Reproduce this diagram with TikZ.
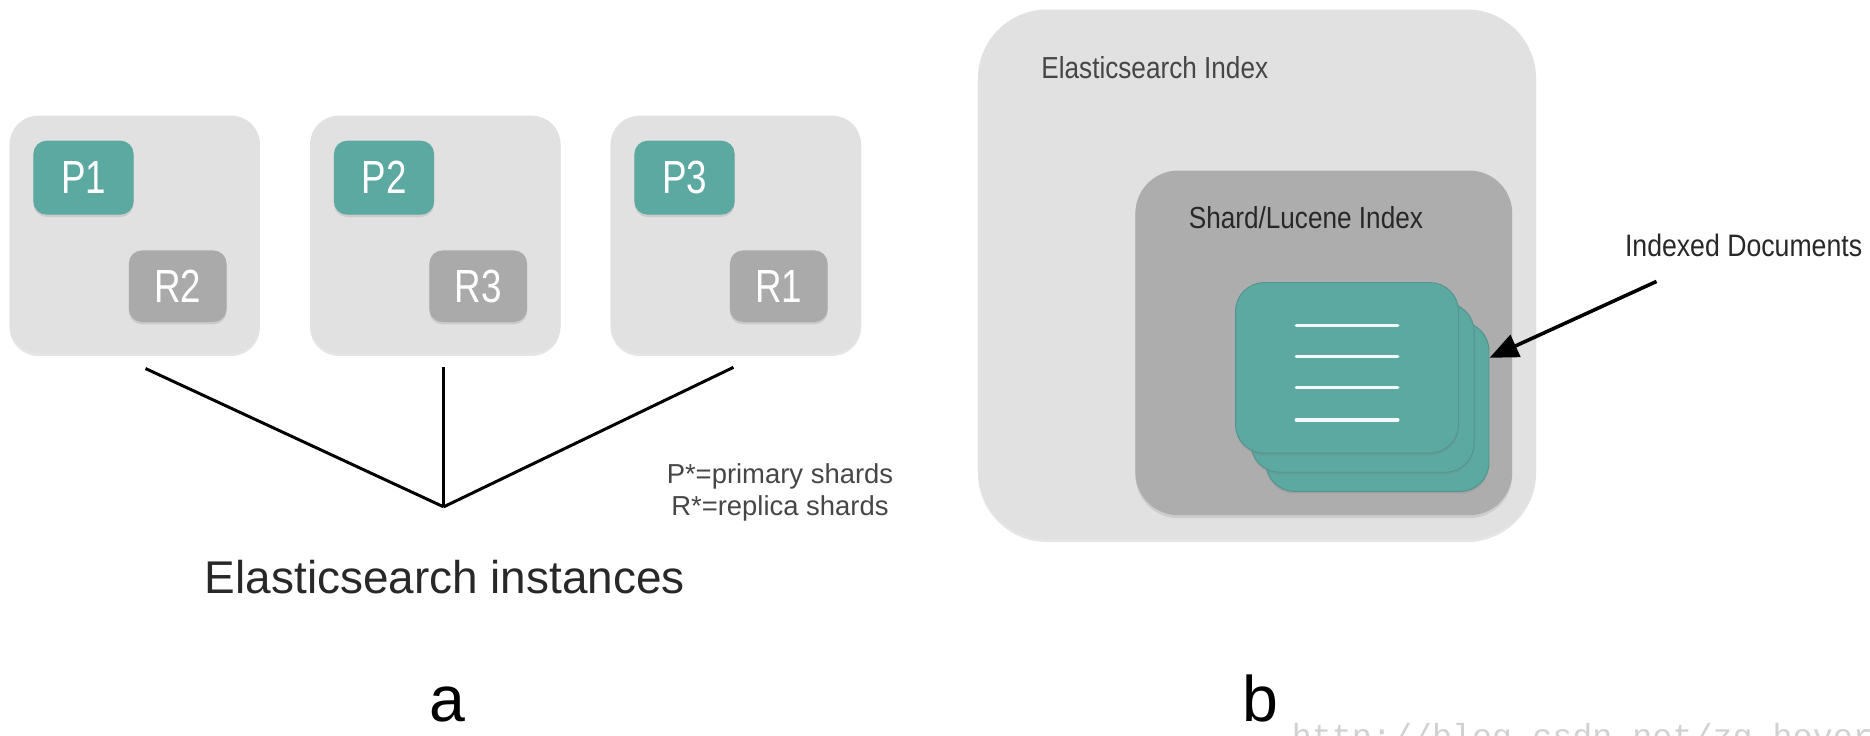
\documentclass[tikz,border=0pt]{standalone}
\usepackage{fontspec}
\setmainfont{Liberation Sans}
\newfontfamily\condfont[FakeStretch=0.86]{Liberation Sans}
\newfontfamily\narrowfont[FakeStretch=0.79]{Liberation Sans}
\newfontfamily\wmfont{Liberation Mono}
\usetikzlibrary{shadows,arrows.meta}
\definecolor{lightbox}{RGB}{225,225,225}
\definecolor{teal1}{RGB}{92,169,161}
\definecolor{graybox}{RGB}{170,170,170}
\definecolor{shardgray}{RGB}{173,173,173}
\definecolor{txtdark}{RGB}{40,40,40}
\definecolor{txtmid}{RGB}{70,70,70}
\tikzset{
  inst/.style={fill=lightbox, rounded corners=24pt, minimum width=210pt, minimum height=199pt, inner sep=0pt,
    drop shadow={opacity=0.2, shadow xshift=0pt, shadow yshift=-2.5pt}},
  pbox/.style={fill=teal1, rounded corners=11pt, minimum width=84pt, minimum height=62pt, inner sep=0pt, text=white,
    font=\narrowfont\fontsize{39}{42}\selectfont,
    drop shadow={opacity=0.22, shadow xshift=0pt, shadow yshift=-2pt}},
  rbox/.style={fill=graybox, rounded corners=11pt, minimum width=82pt, minimum height=60pt, inner sep=0pt, text=white,
    font=\narrowfont\fontsize{39}{42}\selectfont,
    drop shadow={opacity=0.22, shadow xshift=0pt, shadow yshift=-2pt}},
  doc/.style={fill=teal1, draw=teal1!88!black, line width=0.8pt, rounded corners=24pt, minimum width=187pt, minimum height=142pt, inner sep=0pt,
    drop shadow={opacity=0.25, shadow xshift=0pt, shadow yshift=-2pt}},
  link/.style={line width=2.5pt, black},
  docline/.style={line width=3pt, color=white!92!teal1, line cap=round},
  lbl/.style={inner sep=0pt},
}
\begin{document}
\begin{tikzpicture}[x=1pt,y=-1pt]
\useasboundingbox (0,0) rectangle (1568,617);
\fill[white] (0,0) rectangle (1568,617);

% ---- left panel: instances
\node[inst] (i1) at (113,196.5) {};
\node[inst] (i2) at (365,196.5) {};
\node[inst] (i3) at (617,196.5) {};
\node[pbox] (p1) at (70,149) {P1};
\node[pbox] (p2) at (322,149) {P2};
\node[pbox] (p3) at (574,149) {P3};
\node[rbox] (r2) at (149,240) {R2};
\node[rbox] (r3) at (401,240) {R3};
\node[rbox] (r1) at (653,240) {R1};

\coordinate (s1) at (122,309);
\coordinate (s2) at (372,308);
\coordinate (s3) at (615,308);
\coordinate (join) at (372,425);
\draw[link] (s1) -- (join);
\draw[link] (s2) -- (join);
\draw[link] (s3) -- (join);

\node[lbl, anchor=base, text=txtmid, font=\fontsize{23}{27}\selectfont] (leg1) at (654,405) {P*=primary shards};
\node[lbl, anchor=base, text=txtmid, font=\fontsize{23}{27}\selectfont] (leg2) at (654,432) {R*=replica shards};
\node[lbl, anchor=base, text=txtdark, font=\fontsize{38.5}{44}\selectfont] (instl) at (373,498) {Elasticsearch instances};
\node[lbl, anchor=base, text=black, font=\fontsize{54}{60}\selectfont] (la) at (375,605) {a};

% ---- right panel: index
\node[inst, minimum width=468pt, minimum height=444pt, rounded corners=58pt] (idx) at (1054,230) {};
\node[lbl, anchor=base west, text=txtmid, font=\condfont\fontsize{25.5}{30}\selectfont] (idxl) at (873,66) {Elasticsearch Index};
\node[fill=shardgray, rounded corners=36pt, minimum width=316pt, minimum height=289pt, inner sep=0pt,
  drop shadow={opacity=0.2, shadow xshift=0pt, shadow yshift=-2.5pt}] (shard) at (1110,287.5) {};
\node[lbl, anchor=base, text=txtdark, font=\condfont\fontsize{25.5}{30}\selectfont] (shardl) at (1095,192) {Shard/Lucene Index};

\node[doc] (d3) at (1155,341) {};
\node[doc] (d2) at (1142.5,325) {};
\node[doc, minimum height=143pt] (d1) at (1129.5,308.5) {};
\draw[docline] (1087,273) -- (1172,273);
\draw[docline] (1087,299) -- (1172,299);
\draw[docline] (1087,325) -- (1172,325);
\draw[docline] (1087,352) -- (1172,352);

\node[lbl, anchor=base, text=txtdark, font=\condfont\fontsize{26}{30}\selectfont] (docl) at (1462,215) {Indexed Documents};
\coordinate (as) at (1389,236);
\coordinate (at) at (1249,300);
\draw[line width=3pt, -{Triangle[length=24pt,width=20pt]}] (as) -- (at);

\node[lbl, anchor=base, text=black, font=\fontsize{54}{60}\selectfont] (lb) at (1057,605) {b};
\node[lbl, anchor=base west, text=black!18, font=\wmfont\fontsize{28}{30}\selectfont] (wm) at (1083,627) {http://blog.csdn.net/zg\_hover};
\end{tikzpicture}
\end{document}
